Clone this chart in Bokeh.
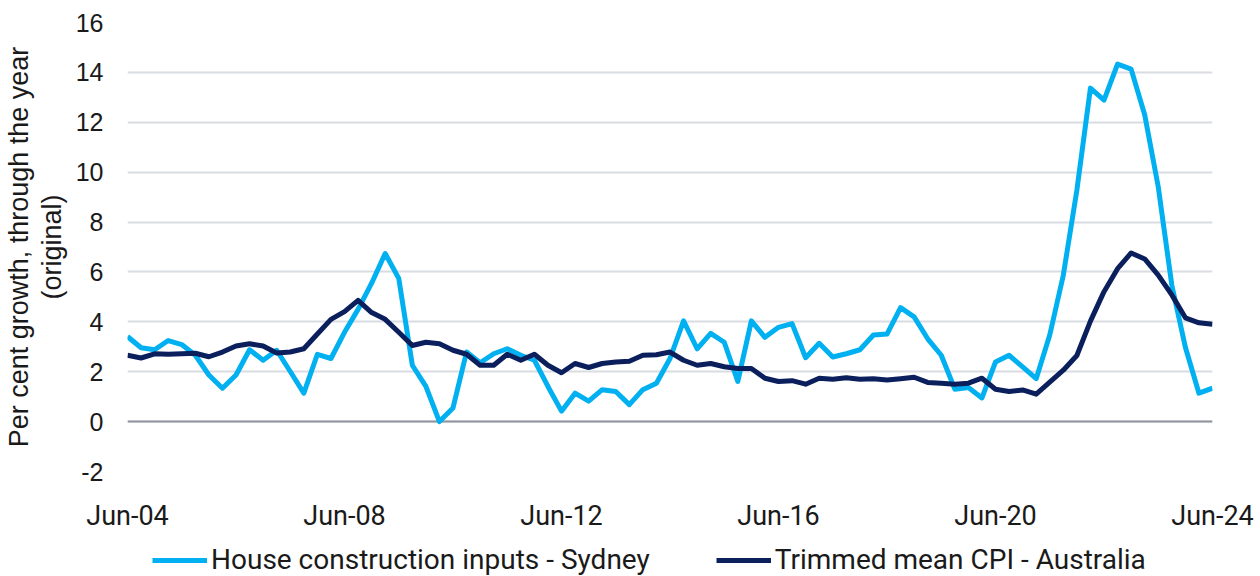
from bokeh.plotting import figure
from bokeh.layouts import column
from bokeh.models import ColumnDataSource, Legend, LegendItem, Span, FixedTicker, Range1d
from bokeh.embed import file_html
from bokeh.resources import INLINE

# Quarterly, Jun-04 .. Jun-24 (81 quarters)
quarter_index = list(range(81))
house_inputs_sydney = [
    3.41, 2.96, 2.88, 3.25, 3.09, 2.66, 1.87, 1.34, 1.87, 2.88, 2.46, 2.86, 2.01, 1.14,
    2.70, 2.53, 3.58, 4.50, 5.55, 6.74, 5.74, 2.26, 1.41, 0.00, 0.55, 2.79, 2.36,
    2.72, 2.92, 2.66, 2.46, 1.41, 0.42, 1.14, 0.82, 1.28, 1.21, 0.68, 1.28, 1.54, 2.53,
    4.04, 2.92, 3.54, 3.18, 1.61, 4.04, 3.38, 3.78, 3.93, 2.56, 3.14,
    2.59, 2.72, 2.88, 3.47, 3.51, 4.57, 4.20, 3.32, 2.66, 1.30, 1.37, 0.95, 2.39, 2.66,
    2.19, 1.72, 3.47, 5.87, 9.28, 13.37, 12.89, 14.33, 14.13, 12.30, 9.41, 5.47, 2.98,
    1.14, 1.34,
]
trimmed_mean_cpi = [
    2.66, 2.55, 2.72, 2.70, 2.72, 2.74, 2.60, 2.79, 3.03, 3.12, 3.03, 2.75, 2.79, 2.92,
    3.51, 4.10, 4.41, 4.86, 4.37, 4.10, 3.58, 3.05, 3.18, 3.12, 2.86, 2.70, 2.26,
    2.26, 2.70, 2.46, 2.70, 2.26, 1.96, 2.33, 2.17, 2.33, 2.39, 2.42, 2.66, 2.68, 2.79,
    2.46, 2.26, 2.33, 2.20, 2.13, 2.13, 1.74, 1.61, 1.64, 1.50, 1.74,
    1.70, 1.76, 1.70, 1.72, 1.67, 1.72, 1.78, 1.57, 1.54, 1.50, 1.54, 1.74, 1.30, 1.21,
    1.27, 1.10, 1.58, 2.06, 2.65, 4.03, 5.21, 6.13, 6.76, 6.52, 5.87, 5.08, 4.16, 3.96,
    3.90,
]
tick_positions = [0, 16, 32, 48, 64, 80]
tick_labels = ["Jun-04", "Jun-08", "Jun-12", "Jun-16", "Jun-20", "Jun-24"]
y_ticks = [-2, 0, 2, 4, 6, 8, 10, 12, 14, 16]
y_tick_labels = ["-2", "0", "2", "4", "6", "8", "10", "12", "14", "16"]

series_names = ["House construction inputs - Sydney", "Trimmed mean CPI - Australia"]
LIGHT = "#00B0F0"
NAVY = "#0A1F5C"

src = ColumnDataSource(dict(x=quarter_index, house=house_inputs_sydney, cpi=trimmed_mean_cpi))

p = figure(width=1260, height=534, output_backend="svg", toolbar_location=None,
           x_range=Range1d(0, 80), y_range=Range1d(-2, 16),
           min_border_left=127, min_border_right=48, min_border_top=22,
           min_border_bottom=54)
p.outline_line_color = None
p.background_fill_color = "white"

# grid
p.xgrid.visible = False
p.ygrid.ticker = FixedTicker(ticks=y_ticks)
p.ygrid.grid_line_color = "#D9DCE1"
p.ygrid.grid_line_width = 2
zero = Span(location=0, dimension="width", line_color="#8E959D", line_width=2, level="underlay")
p.add_layout(zero)

# axes
p.xaxis.ticker = FixedTicker(ticks=tick_positions)
p.xaxis.major_label_overrides = {t: l for t, l in zip(tick_positions, tick_labels)}
p.xaxis.axis_line_color = None
p.xaxis.major_tick_line_color = None
p.xaxis.minor_tick_line_color = None
p.xaxis.major_label_text_font = "Roboto"
p.xaxis.major_label_text_font_size = "27px"
p.xaxis.major_label_text_color = "#1A1A1A"
p.xaxis.major_label_standoff = 22

p.yaxis.ticker = FixedTicker(ticks=y_ticks)
p.yaxis.major_label_overrides = {t: l for t, l in zip(y_ticks, y_tick_labels)}
p.yaxis.axis_line_color = None
p.yaxis.major_tick_line_color = None
p.yaxis.minor_tick_line_color = None
p.yaxis.major_label_text_font = "Liberation Sans"
p.yaxis.major_label_text_font_size = "25px"
p.yaxis.major_label_text_color = "#1A1A1A"
p.yaxis.major_label_standoff = 18
p.yaxis.axis_label = "Per cent growth, through the year\n(original)"
p.yaxis.axis_label_text_font = "Liberation Sans"
p.yaxis.axis_label_text_font_style = "normal"
p.yaxis.axis_label_text_font_size = "27px"
p.yaxis.axis_label_text_line_height = 1.1
p.yaxis.axis_label_text_color = "#1A1A1A"
p.yaxis.axis_label_standoff = 6

p.line("x", "house", source=src, line_color=LIGHT, line_width=5, line_join="round")
p.line("x", "cpi", source=src, line_color=NAVY, line_width=5, line_join="round")

# legend strip below the chart (single-point line renderers only provide legend swatches)
lg = figure(width=1260, height=42, output_backend="svg", toolbar_location=None,
            x_axis_type=None, y_axis_type=None, x_range=Range1d(0, 1), y_range=Range1d(0, 1),
            min_border_left=0, min_border_right=0, min_border_top=0, min_border_bottom=0)
lg.outline_line_color = None
lg.grid.visible = False
swatch = ColumnDataSource(dict(x=[0.5], y=[0.5]))
k1 = lg.line("x", "y", source=swatch, line_color=LIGHT, line_width=5)
k2 = lg.line("x", "y", source=swatch, line_color=NAVY, line_width=5)

legend = Legend(items=[LegendItem(label=series_names[0], renderers=[k1]),
                       LegendItem(label=series_names[1], renderers=[k2])],
                orientation="horizontal", location=(25, 0),
                label_text_font="Roboto", label_text_font_size="28px",
                label_text_color="#1A1A1A", glyph_width=55, glyph_height=20,
                label_standoff=4, spacing=66, padding=0, margin=0,
                border_line_color=None, background_fill_alpha=0)
lg.add_layout(legend, "center")

layout = column(p, lg, spacing=0)
open("out.html", "w").write(file_html(layout, INLINE))
